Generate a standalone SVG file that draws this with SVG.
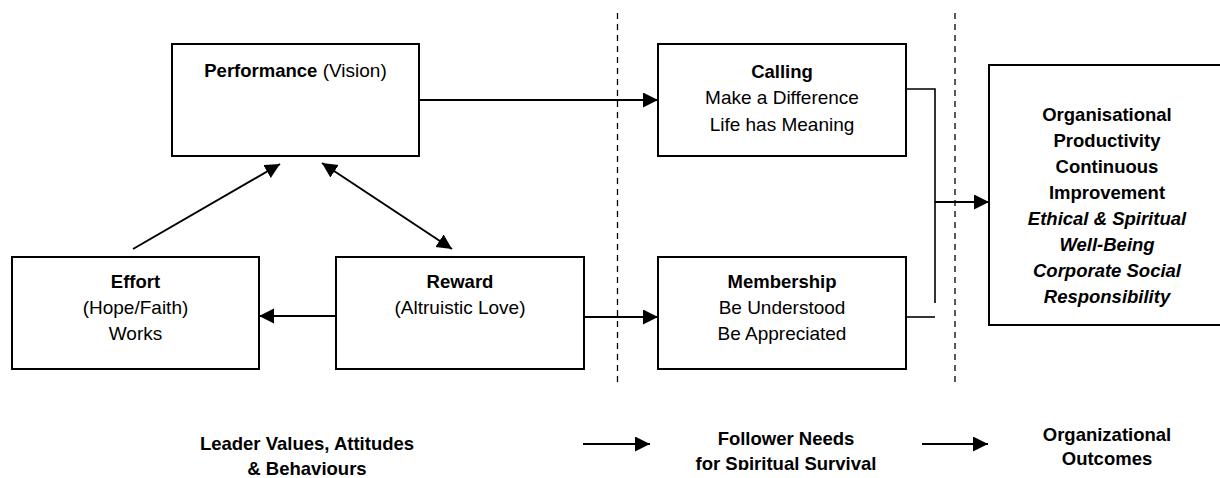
<svg xmlns="http://www.w3.org/2000/svg" width="1220" height="478" viewBox="0 0 1220 478">
<style>
  .box { fill: #ffffff; stroke: #000000; stroke-width: 2; }
  .t { font-family: "Liberation Sans", Arial, sans-serif; font-size: 19px; fill: #000000; text-anchor: middle; }
  .b { font-weight: bold; font-size: 18.5px; }
  .bi { font-weight: bold; font-style: italic; font-size: 18.5px; }
  .conn { fill: none; stroke: #000000; stroke-width: 2; }
  .thin { fill: none; stroke: #000000; stroke-width: 1.6; }
  .dash { fill: none; stroke: #000000; stroke-width: 1.3; stroke-dasharray: 6 5; }
</style>
<defs>
  <marker id="arr" markerUnits="userSpaceOnUse" markerWidth="16" markerHeight="16" refX="15" refY="7.5" orient="auto-start-reverse">
    <path d="M0,0 L15,7.5 L0,15 z" fill="#000000"/>
  </marker>
  <clipPath id="clipBottom">
    <rect x="0" y="0" width="1220" height="470"/>
  </clipPath>
</defs>

<g id="dividers">
  <line class="dash" x1="617.5" y1="13" x2="617.5" y2="385"/>
  <line class="dash" x1="955" y1="13" x2="955" y2="385"/>
</g>

<g id="node-performance">
  <rect class="box" x="172" y="44" width="247" height="112"/>
  <text class="t" x="295.5" y="76.5"><tspan class="b">Performance</tspan> (Vision)</text>
</g>

<g id="node-calling">
  <rect class="box" x="658" y="44" width="248" height="112"/>
  <text class="t b" x="782" y="77.5">Calling</text>
  <text class="t" x="782" y="104">Make a Difference</text>
  <text class="t" x="782" y="130.5">Life has Meaning</text>
</g>

<g id="node-effort">
  <rect class="box" x="12" y="257" width="247" height="112"/>
  <text class="t b" x="135.5" y="288">Effort</text>
  <text class="t" x="135.5" y="313.5">(Hope/Faith)</text>
  <text class="t" x="135.5" y="339.5">Works</text>
</g>

<g id="node-reward">
  <rect class="box" x="336" y="257" width="248" height="112"/>
  <text class="t b" x="460" y="288">Reward</text>
  <text class="t" x="460" y="313.5">(Altruistic Love)</text>
</g>

<g id="node-membership">
  <rect class="box" x="658" y="257" width="248" height="112"/>
  <text class="t b" x="782" y="287.5">Membership</text>
  <text class="t" x="782" y="314">Be Understood</text>
  <text class="t" x="782" y="340">Be Appreciated</text>
</g>

<g id="node-outcomes">
  <rect class="box" x="989" y="65" width="236" height="260"/>
  <text class="t b" x="1107" y="120.5">Organisational</text>
  <text class="t b" x="1107" y="146.5">Productivity</text>
  <text class="t b" x="1107" y="172.5">Continuous</text>
  <text class="t b" x="1107" y="198.5">Improvement</text>
  <text class="t bi" x="1107" y="224.5">Ethical &amp; Spiritual</text>
  <text class="t bi" x="1107" y="250.5">Well-Being</text>
  <text class="t bi" x="1107" y="276.5">Corporate Social</text>
  <text class="t bi" x="1107" y="302.5">Responsibility</text>
</g>

<g id="connectors">
  <line class="conn" x1="419" y1="100" x2="658" y2="100" marker-end="url(#arr)"/>
  <line class="conn" x1="133" y1="249" x2="280" y2="164" marker-end="url(#arr)"/>
  <line class="conn" x1="322" y1="163" x2="452" y2="249" marker-start="url(#arr)" marker-end="url(#arr)"/>
  <line class="conn" x1="336" y1="316" x2="259" y2="316" marker-end="url(#arr)"/>
  <line class="conn" x1="584" y1="317" x2="658" y2="317" marker-end="url(#arr)"/>
  <polyline class="thin" points="906,89 935,89 935,303"/>
  <line class="conn" x1="935" y1="202" x2="989" y2="202" marker-end="url(#arr)"/>
  <line class="thin" x1="906" y1="317" x2="935" y2="317"/>
  <line class="conn" x1="583" y1="444" x2="650" y2="444" marker-end="url(#arr)"/>
  <line class="conn" x1="922" y1="444" x2="988" y2="444" marker-end="url(#arr)"/>
</g>

<g id="label-leader">
  <text class="t b" x="307" y="449.5">Leader Values, Attitudes</text>
  <text class="t b" x="307" y="474.5">&amp; Behaviours</text>
</g>
<g id="label-follower">
  <text class="t b" x="786" y="444.5">Follower Needs</text>
  <text class="t b" x="786" y="470" clip-path="url(#clipBottom)">for Spiritual Survival</text>
</g>
<g id="label-organizational">
  <text class="t b" x="1107" y="440.5">Organizational</text>
  <text class="t b" x="1107" y="464.5">Outcomes</text>
</g>
</svg>
